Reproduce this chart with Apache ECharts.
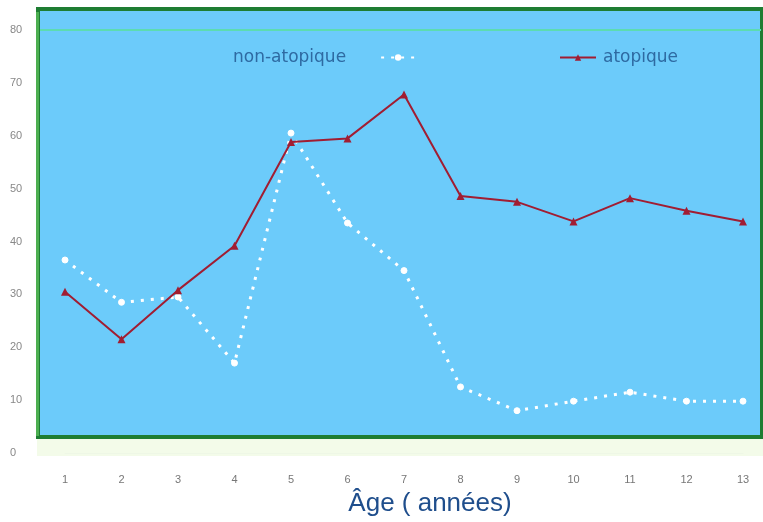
<!DOCTYPE html>
<html><head><meta charset="utf-8">
<script src="https://cdn.jsdelivr.net/npm/echarts@6/dist/echarts.min.js"></script>
<style>html,body{margin:0;padding:0;background:#fff}#c{width:763px;height:522px}</style>
</head><body><div id="c"></div>
<script>
const categories = ['1','2','3','4','5','6','7','8','9','10','11','12','13'];
const nonAtopique = [36.5, 28.5, 29.5, 17, 60.5, 43.5, 34.5, 12.5, 8, 9.8, 11.5, 9.8, 9.8];
const atopique = [30.5, 21.5, 30.8, 39.2, 58.8, 59.5, 67.8, 48.6, 47.5, 43.8, 48.2, 45.8, 43.8];
const yTicks = [0, 10, 20, 30, 40, 50, 60, 70, 80];

const chart = echarts.init(document.getElementById('c'));
chart.setOption({
  backgroundColor: '#ffffff',
  animation: false,
  graphic: [
    {type:'rect', z:-10, shape:{x:37,y:438,width:726,height:18}, style:{fill:'#f3fbe9'}},
    {type:'rect', z:-5, shape:{x:38,y:9,width:724,height:428}, style:{fill:'#6ccbfa', stroke:'#1e7d32', lineWidth:4}},
    {type:'rect', z:-4, shape:{x:36,y:12,width:3,height:424}, style:{fill:'#4caf50'}},
    {type:'rect', z:-3, shape:{x:40,y:29,width:721,height:2}, style:{fill:'#5cdcb0'}}
  ],
  grid: {left: 65, right: 20, top: 30, bottom: 69},
  legend: [
    {data:['non-atopique'], left: 228, top: 44, align:'right', itemWidth:34, itemHeight:8,
     textStyle:{color:'#2e6aa2', fontSize:17, fontFamily:'DejaVu Sans', padding:[0,30,0,0]}},
    {data:['atopique'], left: 554, top: 44, itemWidth:36, itemHeight:8,
     textStyle:{color:'#2e6aa2', fontSize:17, fontFamily:'DejaVu Sans', padding:[0,0,0,2]}}
  ],
  xAxis: {
    type:'category', data: categories, boundaryGap:false,
    name:'Âge ( années)', nameLocation:'middle', nameGap:38,
    nameTextStyle:{color:'#1f4e8c', fontSize:26, fontFamily:'Liberation Sans', padding:[0,0,0,52]},
    axisLine:{show:true, lineStyle:{color:'#eef7e6'}}, axisTick:{show:false},
    axisLabel:{color:'#777', fontSize:11, margin:21, fontFamily:'Liberation Sans'},
    splitLine:{show:false}
  },
  yAxis: {
    type:'value', min:0, max:80, interval:10,
    axisLabel:{color:'#888', fontSize:11, margin:55, align:'left', fontFamily:'Liberation Sans',
      formatter: v => yTicks.includes(v) ? String(v) : ''},
    axisLine:{show:false}, axisTick:{show:false},
    splitLine:{show:false}
  },
  series: [
    {name:'non-atopique', type:'line', data: nonAtopique, z:3,
     lineStyle:{color:'#ffffff', width:3, type:[3,7]},
     itemStyle:{color:'#ffffff', borderColor:'#ffffff'},
     symbol:'circle', symbolSize:6},
    {name:'atopique', type:'line', data: atopique, z:4,
     lineStyle:{color:'#a11d32', width:2},
     itemStyle:{color:'#a11d32'},
     symbol:'triangle', symbolSize:8}
  ]
});
</script></body></html>
